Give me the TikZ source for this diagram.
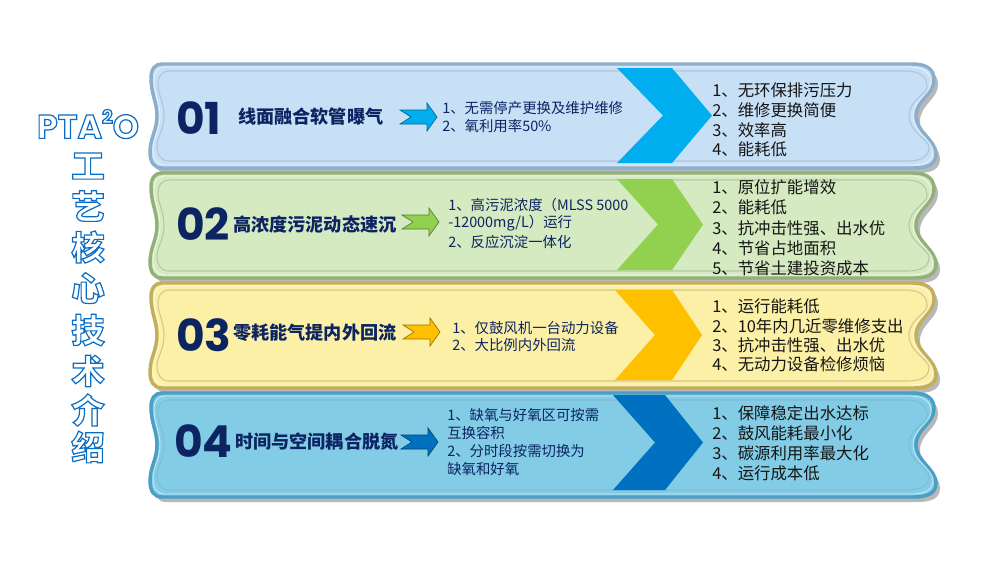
\documentclass[tikz,border=0pt]{standalone}
\usepackage{fontspec}
\setmainfont{Liberation Sans}
\newfontfamily\cjk{Noto Sans CJK SC}
\newfontfamily\numfont{Poppins}
\definecolor{navy}{HTML}{0C2462}
\definecolor{ink}{HTML}{151515}
\definecolor{ttl}{HTML}{0A6CC2}
\definecolor{fA}{HTML}{C7E0F6}\definecolor{bA}{HTML}{8AAECB}
\definecolor{fB}{HTML}{D5EAC0}\definecolor{bB}{HTML}{93B07A}
\definecolor{fC}{HTML}{FCEFA6}\definecolor{bC}{HTML}{C2AF5E}
\definecolor{fD}{HTML}{82CCE6}\definecolor{bD}{HTML}{4A9FC4}
\definecolor{cA}{HTML}{00AEEF}
\definecolor{cB}{HTML}{92D050}
\definecolor{cC}{HTML}{FFC000}
\definecolor{cD}{HTML}{0070C0}
% band outline: #1 top, #2 bottom, #3 inset
\newcommand\bandpath[3]{%
(162+#3,#1+#3) -- (912-#3,#1+#3)
.. controls (928-#3,#1+#3) and (934-#3,#1+6+#3) .. (934-#3,#1+16+#3)
.. controls (934-#3,{(#1+#2)/2-22}) and (916-#3,{(#1+#2)/2-16}) .. (916-#3,{(#1+#2)/2})
.. controls (916-#3,{(#1+#2)/2+16}) and (936-#3,#2-28) .. (936-#3,#2-14-#3)
.. controls (936-#3,#2-4-#3) and (928-#3,#2-#3) .. (914-#3,#2-#3)
-- (162+#3,#2-#3)
.. controls (154+#3,#2-#3) and (150+#3,#2-6-#3) .. (150+#3,#2-16-#3)
.. controls (150+#3,#2-30) and (157+#3,{(#1+#2)/2+14}) .. (157+#3,{(#1+#2)/2})
.. controls (157+#3,{(#1+#2)/2-14}) and (151+#3,#1+30) .. (151+#3,#1+14+#3)
.. controls (151+#3,#1+5+#3) and (155+#3,#1+#3) .. (162+#3,#1+#3) -- cycle}
\newcommand\band[4]{% top bottom fill border
\fill[black,opacity=.28] [shift={(4,5)}] \bandpath{#1}{#2}{0};
\draw[#4,line width=2.6pt,fill=#3] \bandpath{#1}{#2}{0};
\draw[#4!70,line width=0.8pt] \bandpath{#1}{#2}{7};
\draw[white,opacity=.6,line width=0.6pt] \bandpath{#1}{#2}{3};
}
% chevron: x0 top bottom xr tip notch colour
\newcommand\chev[7]{%
\fill[#7] (#1,#2) -- (#4,#2) -- (#5,{(#2+#3)/2}) -- (#4,#3) -- (#1,#3) -- (#6,{(#2+#3)/2}) -- cycle;}
% small arrow: x0 cy fill
\newcommand\sarrow[3]{%
\draw[#3!60!black,line width=0.5pt,fill=#3] (#1,#2-7) -- (#1+27,#2-7) -- (#1+27,#2-14) -- (#1+37,#2) -- (#1+27,#2+14) -- (#1+27,#2+7) -- (#1,#2+7) -- (#1+11,#2) -- cycle;}
\tikzset{
 num/.style={anchor=west,text=navy,font=\numfont\bfseries\fontsize{33}{33}\selectfont,inner sep=0pt},
 ttlt/.style={anchor=west,text=navy,font=\cjk\bfseries\fontsize{13.6}{14}\selectfont,inner sep=0pt},
 mid/.style={anchor=west,text=navy,font=\cjk\fontsize{10.8}{12}\selectfont,inner sep=0pt},
 rgt/.style={anchor=west,text=ink,font=\cjk\fontsize{12.3}{13}\selectfont,inner sep=0pt},
 vt/.style={font=\cjk\bfseries\fontsize{25}{25}\selectfont,inner sep=0pt},
}
\newcommand\outl[1]{{\color{ttl}\special{pdf:code q 1 Tr 0.9 w}#1\special{pdf:code Q}}}
\begin{document}
\begin{tikzpicture}[x=0.75pt,y=-0.75pt]
\useasboundingbox (0,0) rectangle (1000,562);
\fill[white] (0,0) rectangle (1000,562);
% bands
\band{64}{168}{fA}{bA}
\band{173}{278}{fB}{bB}
\band{283}{388}{fC}{bC}
\band{393}{497}{fD}{bD}
% chevrons
\chev{617}{68}{163}{672}{712}{663}{cA}
\chev{617}{179}{270}{672}{703}{658}{cB}
\chev{615}{290}{380}{672}{702}{655}{cC}
\chev{613}{395}{490}{665}{703}{655}{cD}
% small arrows
\sarrow{400}{117}{cA}
\sarrow{402}{222}{cB}
\sarrow{403}{332}{cC}
\sarrow{401}{442}{cD}
% left title
\node[font=\numfont\bfseries\fontsize{25}{25}\selectfont,inner sep=0pt] (pta) at (88,124) {\outl{PTA\raisebox{0.45em}{\fontsize{14}{14}\selectfont 2}O}};
\node[vt] (v1) at (88,166) {\outl{工}};
\node[vt] (v2) at (88,206) {\outl{艺}};
\node[vt] (v3) at (88,247) {\outl{核}};
\node[vt] (v4) at (88,288) {\outl{心}};
\node[vt] (v5) at (88,330) {\outl{技}};
\node[vt] (v6) at (88,371) {\outl{术}};
\node[vt] (v7) at (88,410) {\outl{介}};
\node[vt] (v8) at (88,447) {\outl{绍}};
% band 1
\node[num] (n1) at (176,118) {01};
\node[ttlt] (t1) at (238,117) {线面融合软管曝气};
\node[mid] (m11) at (442,108) {1、无需停产更换及维护维修};
\node[mid] (m12) at (442,126) {2、氧利用率50\%};
\node[rgt] (r11) at (712,90) {1、无环保排污压力};
\node[rgt] (r12) at (712,110) {2、维修更换简便};
\node[rgt] (r13) at (712,130) {3、效率高};
\node[rgt] (r14) at (712,149) {4、能耗低};
% band 2
\node[num] (n2) at (176,224) {02};
\node[ttlt] (t2) at (233,225) {高浓度污泥动态速沉};
\node[mid] (m21) at (448,205) {1、高污泥浓度（MLSS 5000};
\node[mid] (m22) at (448,223) {-12000mg/L）运行};
\node[mid] (m23) at (448,242) {2、反应沉淀一体化};
\node[rgt] (r21) at (712,187) {1、原位扩能增效};
\node[rgt] (r22) at (712,207) {2、能耗低};
\node[rgt] (r23) at (712,228) {3、抗冲击性强、出水优};
\node[rgt] (r24) at (712,248) {4、节省占地面积};
\node[rgt] (r25) at (712,268) {5、节省土建投资成本};
% band 3
\node[num] (n3) at (176,335) {03};
\node[ttlt] (t3) at (233,333) {零耗能气提内外回流};
\node[mid] (m31) at (452,328) {1、仅鼓风机一台动力设备};
\node[mid] (m32) at (452,345) {2、大比例内外回流};
\node[rgt] (r31) at (712,306) {1、运行能耗低};
\node[rgt] (r32) at (712,326) {2、10年内几近零维修支出};
\node[rgt] (r33) at (712,345) {3、抗冲击性强、出水优};
\node[rgt] (r34) at (712,364) {4、无动力设备检修烦恼};
% band 4
\node[num] (n4) at (174,441) {04};
\node[ttlt] (t4) at (235,442) {时间与空间耦合脱氮};
\node[mid] (m41) at (447,415) {1、缺氧与好氧区可按需};
\node[mid] (m42) at (447,433) {互换容积};
\node[mid] (m43) at (447,451) {2、分时段按需切换为};
\node[mid] (m44) at (447,469) {缺氧和好氧};
\node[rgt] (r41) at (712,413) {1、保障稳定出水达标};
\node[rgt] (r42) at (712,433) {2、鼓风能耗最小化};
\node[rgt] (r43) at (712,453) {3、碳源利用率最大化};
\node[rgt] (r44) at (712,473) {4、运行成本低};
\end{tikzpicture}
\end{document}
